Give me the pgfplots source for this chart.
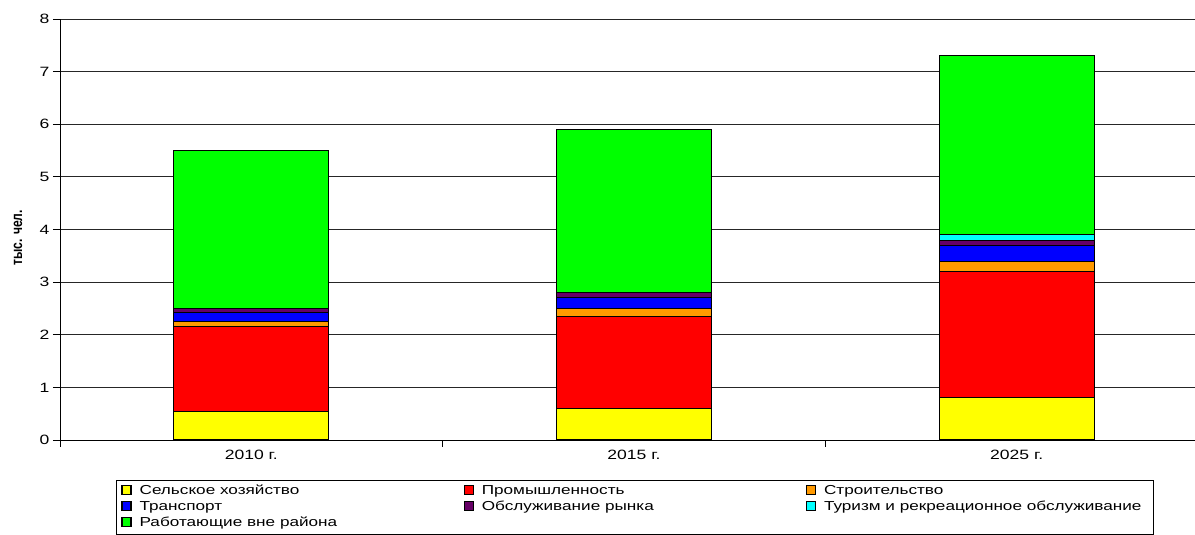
\documentclass[border=0pt]{standalone}
\usepackage{pgfplots}
\pgfplotsset{compat=1.18}
\usepackage{fontspec}
\setmainfont{Liberation Sans}
\newfontfamily\tickfont[FakeStretch=1.3]{Liberation Sans}
\newfontfamily\legfont[FakeStretch=1.32]{Liberation Sans}
\newfontfamily\labfont[FakeStretch=0.78]{Liberation Sans}
\definecolor{cYel}{HTML}{FFFF00}
\definecolor{cRed}{HTML}{FF0000}
\definecolor{cOra}{HTML}{FF9900}
\definecolor{cBlu}{HTML}{0000FF}
\definecolor{cPur}{HTML}{660066}
\definecolor{cCya}{HTML}{00FFFF}
\definecolor{cGre}{HTML}{00FF00}
\begin{document}
\begin{tikzpicture}[x=1pt,y=1pt]
\useasboundingbox (-60,-95) rectangle (1135,440);
\begin{axis}[at={(0,0)}, anchor=south west, scale only axis,
  width=1148pt, height=421pt,
  ybar stacked, bar width=155pt,
  xmin=-0.5, xmax=2.5, ymin=0, ymax=8, ytick={0,1,...,8},
  xtick={-0.5,0.5,1.5,2.5}, xticklabels={2010 г.,2015 г.,2025 г.},
  x tick label as interval,
  axis lines*=left,
  ymajorgrids, major grid style={black!85, line width=0.8pt},
  tick align=outside, major tick length=7pt, tick style={black, line width=0.8pt},
  axis line style={black, line width=0.8pt},
  ticklabel style={font=\tickfont\fontsize{13.5}{15}\selectfont},
  /pgf/number format/assume math mode=true,
  ylabel={тыс. чел.},
  ylabel style={font=\labfont\bfseries\fontsize{15.5}{17}\selectfont, at={(axis description cs:-0.0365,0.48)}, anchor=center},
  legend columns=3,
  legend cell align=left,
  legend style={at={(axis description cs:0.0488,-0.095)}, anchor=north west,
    draw=black, line width=0.8pt, font=\legfont\fontsize{13}{15}\selectfont,
    row sep=0pt, column sep=0pt, inner xsep=5pt, inner ysep=3pt,
    nodes={inner xsep=2pt, inner ysep=1pt, text height=10pt, text depth=4pt},
    /tikz/every odd column/.style={column sep=6pt},
    /tikz/every even column/.style={column sep=0pt}},
  lg/.style={draw=black, line width=1pt, fill=#1,
    legend image code/.code={\draw[fill=#1,draw=black,line width=1.2pt] (0pt,-3pt) rectangle (9pt,6pt);}},
]
\addplot[lg=cYel] coordinates {(0,0.55) (1,0.6) (2,0.8)};
\addlegendentry{\makebox[322pt][l]{Сельское хозяйство}}
\addplot[lg=cRed] coordinates {(0,1.6) (1,1.75) (2,2.4)};
\addlegendentry{\makebox[322pt][l]{Промышленность}}
\addplot[lg=cOra] coordinates {(0,0.11) (1,0.15) (2,0.2)};
\addlegendentry{\makebox[322pt][l]{Строительство}}
\addplot[lg=cBlu] coordinates {(0,0.17) (1,0.2) (2,0.3)};
\addlegendentry{\makebox[322pt][l]{Транспорт}}
\addplot[lg=cPur] coordinates {(0,0.07) (1,0.1) (2,0.1)};
\addlegendentry{\makebox[322pt][l]{Обслуживание рынка}}
\addplot[lg=cCya] coordinates {(0,0) (1,0) (2,0.1)};
\addlegendentry{\makebox[322pt][l]{Туризм и рекреационное обслуживание}}
\addplot[lg=cGre] coordinates {(0,3.0) (1,3.1) (2,3.4)};
\addlegendentry{\makebox[322pt][l]{Работающие вне района}}
\end{axis}
\end{tikzpicture}
\end{document}
